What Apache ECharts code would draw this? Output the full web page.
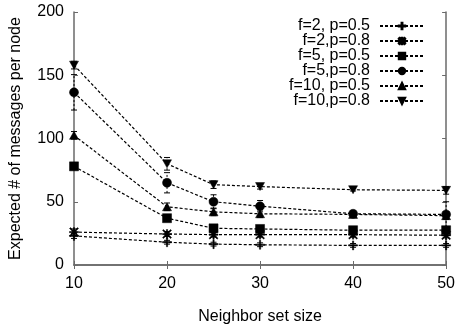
<!DOCTYPE html>
<html>
<head>
<meta charset="utf-8">
<script src="https://cdn.jsdelivr.net/npm/echarts@6/dist/echarts.min.js"></script>
<style>
  html, body { margin: 0; padding: 0; background: #fff; }
  #chart { width: 458px; height: 330px; }
</style>
</head>
<body>
<div id="chart"></div>
<script>
// Neighbor set sizes on the x axis
const neighborSizes = [10, 20, 25, 30, 40, 50];

// Expected number of messages per node, one array per (f, p) setting
const f2p05  = [23,    18,   16.5, 16,   15.5, 15.5];
const f2p08  = [26,    24.5, 24,   24,   24,   23.5];
const f5p05  = [78,    37,   29,   28.5, 27.5, 27.5];
const f5p08  = [136.5, 65,   50,   46.5, 40.5, 40];
const f10p05 = [102.5, 46,   42,   40.5, 40,   39];
const f10p08 = [158,   80,   63.5, 62,   59.5, 59];

// Half-widths of the error bars
const errF2p05  = [2,  1.5, 1.5, 1.5, 1.5, 1.5];
const errF2p08  = [2.5, 2,  2,   2,   2,   2];
const errF5p05  = [2,  2,   2,   2,   2,   2];
const errF5p08  = [14, 8,   5.5, 4.5, 2,   10];
const errF10p05 = [3,  3,   3,   3,   2,   3];
const errF10p08 = [3,  5,   3,   2,   1,   3];

const seriesNames = ['f=2, p=0.5', 'f=2,p=0.8', 'f=5, p=0.5', 'f=5,p=0.8', 'f=10, p=0.5', 'f=10,p=0.8'];

// Point-style marks
const plusPath = 'path://M4.3,0H5.7V4.3H10V5.7H5.7V10H4.3V5.7H0V4.3H4.3Z';
const starPath = 'path://M4.3,0H5.7V4.3H10V5.7H5.7V10H4.3V5.7H0V4.3H4.3Z' +
  'M1,0L5,4L9,0L10,1L6,5L10,9L9,10L5,6L1,10L0,9L4,5L0,1Z';
const upTri = 'path://M5,0L10,8.5L0,8.5Z';
const downTri = 'path://M0,0L10,0L5,8.5Z';

const seriesDefs = [
  { name: seriesNames[0], values: f2p05,  errs: errF2p05,  symbol: plusPath, size: 9 },
  { name: seriesNames[1], values: f2p08,  errs: errF2p08,  symbol: starPath, size: 9 },
  { name: seriesNames[2], values: f5p05,  errs: errF5p05,  symbol: 'rect',   size: 9 },
  { name: seriesNames[3], values: f5p08,  errs: errF5p08,  symbol: 'circle', size: 9 },
  { name: seriesNames[4], values: f10p05, errs: errF10p05, symbol: upTri,    size: [9, 8] },
  { name: seriesNames[5], values: f10p08, errs: errF10p08, symbol: downTri,  size: [9, 8] }
];

const FONT = 'Liberation Sans, Arial, Helvetica, sans-serif';
const axisGray = '#6a6a6a';

const series = [];
seriesDefs.forEach(function (d) {
  series.push({
    name: d.name,
    type: 'line',
    data: neighborSizes.map(function (x, i) { return [x, d.values[i]]; }),
    symbol: d.symbol,
    symbolSize: d.size,
    showSymbol: true,
    clip: false,
    lineStyle: { color: '#000', width: 1.2, type: [3, 2] },
    itemStyle: { color: '#000', borderColor: '#000', borderWidth: 0.5 },
    z: 3
  });
  // Error bars: dotted vertical line with small caps
  series.push({
    name: d.name + ' err',
    type: 'custom',
    data: neighborSizes.map(function (x, i) {
      return [x, d.values[i] - d.errs[i], d.values[i] + d.errs[i]];
    }),
    encode: { x: 0, y: [1, 2] },
    silent: true,
    z: 2,
    renderItem: function (params, api) {
      const lo = api.coord([api.value(0), api.value(1)]);
      const hi = api.coord([api.value(0), api.value(2)]);
      const w = 3;
      return {
        type: 'group',
        children: [
          { type: 'line', shape: { x1: lo[0], y1: lo[1], x2: hi[0], y2: hi[1] },
            style: { stroke: '#000', lineWidth: 1, lineDash: [2, 2] } },
          { type: 'line', shape: { x1: lo[0] - w, y1: lo[1], x2: lo[0] + w, y2: lo[1] },
            style: { stroke: '#000', lineWidth: 1 } },
          { type: 'line', shape: { x1: hi[0] - w, y1: hi[1], x2: hi[0] + w, y2: hi[1] },
            style: { stroke: '#000', lineWidth: 1 } }
        ]
      };
    }
  });
});

const chart = echarts.init(document.getElementById('chart'), null, { renderer: 'canvas' });

const inTick = { show: true, inside: true, length: 4, lineStyle: { color: axisGray, width: 1 } };
const frameLine = { show: true, lineStyle: { color: axisGray, width: 1.5 } };

chart.setOption({
  animation: false,
  backgroundColor: '#fff',
  textStyle: { fontFamily: FONT },
  grid: { left: 74, right: 7, top: 12, bottom: 53, containLabel: false },
  legend: {
    data: seriesNames,
    orient: 'vertical',
    align: 'right',
    right: 28,
    top: 13,
    itemWidth: 44,
    itemHeight: 8,
    itemGap: -1,
    formatter: function (name) { return '{t|' + name + '}'; },
    textStyle: {
      fontFamily: FONT, fontSize: 16, color: '#000', lineHeight: 13,
      rich: { t: { fontFamily: FONT, fontSize: 16, color: '#000', lineHeight: 13, padding: [0, 5, 0, 0] } }
    },
    selectedMode: false
  },
  xAxis: [
    {
      type: 'value', min: 10, max: 50, interval: 10,
      name: 'Neighbor set size', nameLocation: 'middle', nameGap: 44,
      nameTextStyle: { fontFamily: FONT, fontSize: 16, color: '#000' },
      axisLine: frameLine, axisTick: inTick,
      axisLabel: { fontFamily: FONT, fontSize: 16, color: '#000', margin: 11 },
      splitLine: { show: false }
    },
    {
      type: 'value', position: 'top', min: 10, max: 50, interval: 10,
      axisLine: frameLine, axisTick: inTick, axisLabel: { show: false },
      splitLine: { show: false }
    }
  ],
  yAxis: [
    {
      type: 'value', min: 0, max: 200, interval: 50,
      name: 'Expected # of messages per node', nameLocation: 'middle', nameGap: 50,
      nameTextStyle: { fontFamily: FONT, fontSize: 16, color: '#000' },
      axisLine: frameLine, axisTick: inTick,
      axisLabel: { fontFamily: FONT, fontSize: 16, color: '#000', margin: 10 },
      splitLine: { show: false }
    },
    {
      type: 'value', position: 'right', min: 0, max: 200, interval: 50,
      axisLine: frameLine, axisTick: inTick, axisLabel: { show: false },
      splitLine: { show: false }
    }
  ],
  series: series
});
</script>
</body>
</html>
